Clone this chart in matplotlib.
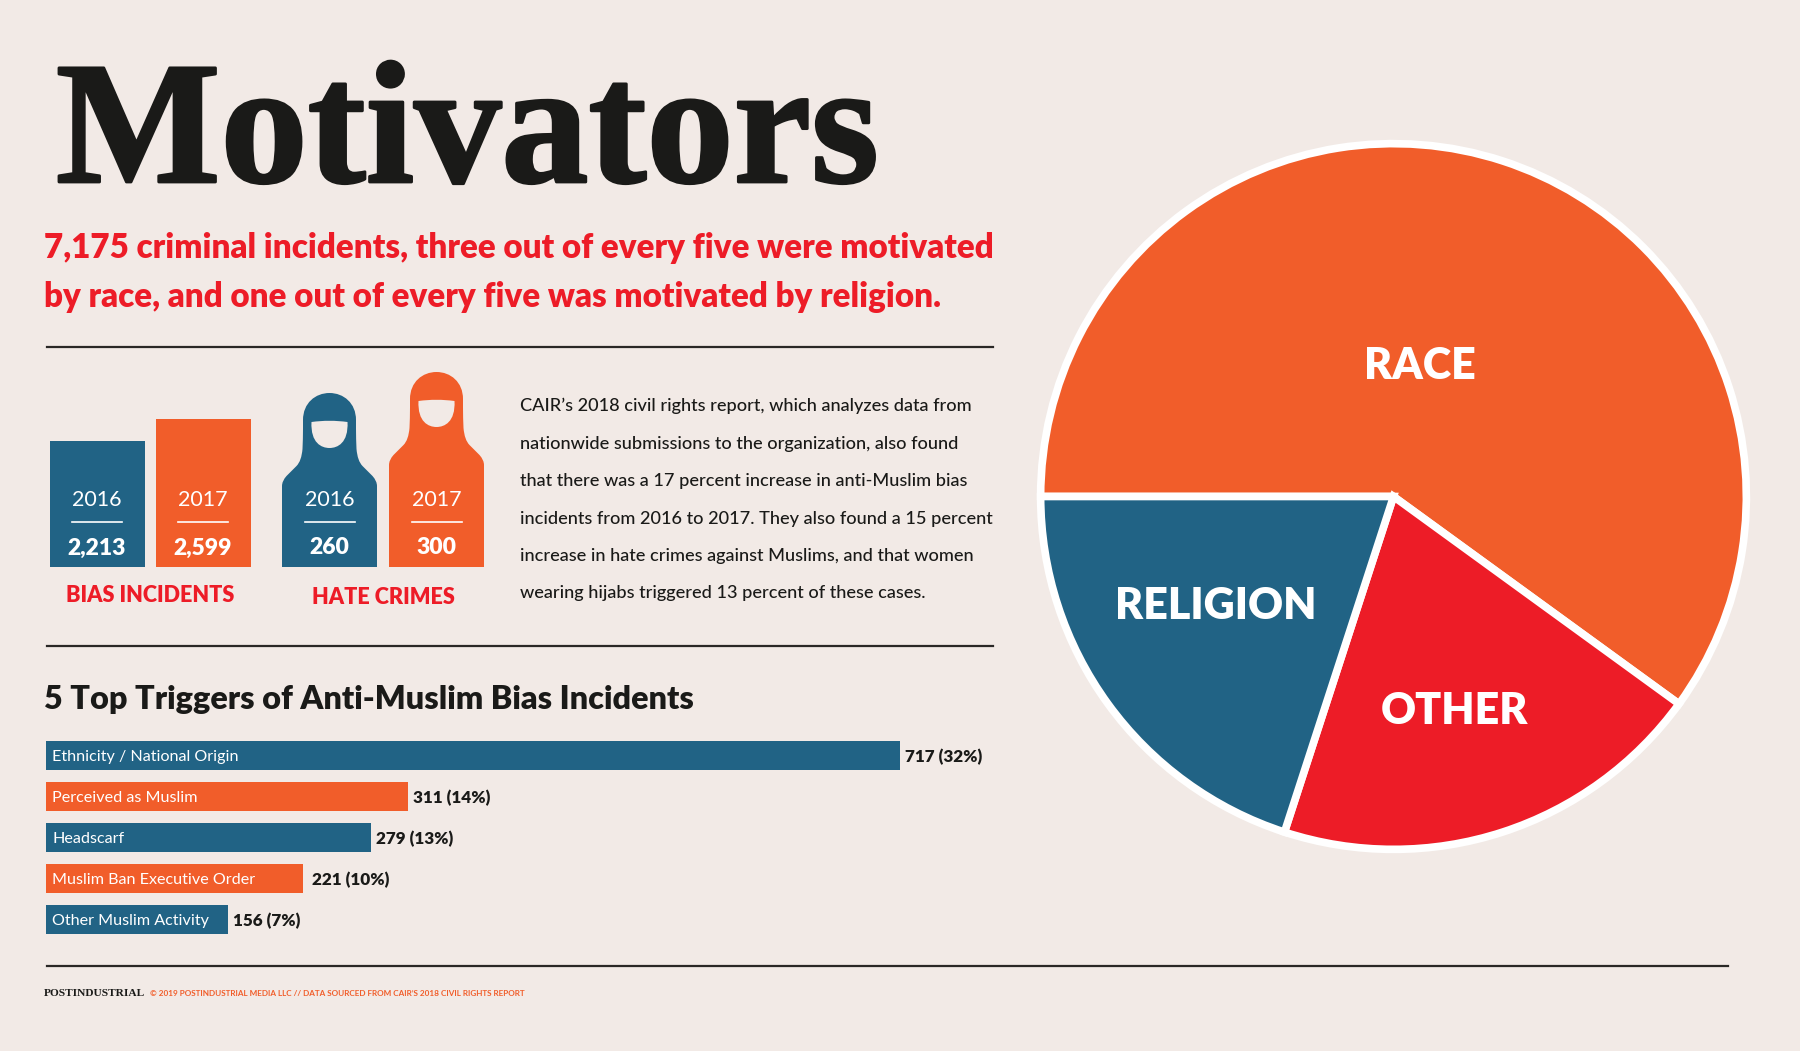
import matplotlib
matplotlib.use('Agg')
import matplotlib.pyplot as plt
import matplotlib.patheffects as effects
from matplotlib.path import Path
from matplotlib.patches import PathPatch

WIDTH = 1800
HEIGHT = 1051

BACKGROUND = '#F2EAE6'
ORANGE = '#F15D2A'
BLUE = '#216385'
RED = '#ED1C27'
INK = '#1A1A18'

years = ['2016', '2017']
bias_incidents = [2213, 2599]
hate_crimes = [260, 300]
year_colors = [BLUE, ORANGE]

pie_labels = ['RACE', 'OTHER', 'RELIGION']
pie_shares = [60, 20, 20]
pie_colors = [ORANGE, RED, BLUE]

trigger_names = ['Ethnicity / National Origin', 'Perceived as Muslim', 'Headscarf',
                 'Muslim Ban Executive Order', 'Other Muslim Activity']
trigger_bars = [733, 311, 279, 221, 156]  # top bar is drawn longer than its 717 in the picture
trigger_labels = ['717 (32%)', '311 (14%)', '279 (13%)', '221 (10%)', '156 (7%)']
trigger_colors = [BLUE, ORANGE, BLUE, ORANGE, BLUE]

headline = ['7,175 criminal incidents, three out of every five were motivated',
            'by race, and one out of every five was motivated by religion.']
body = ['CAIR\u2019s 2018 civil rights report, which analyzes data from',
        'nationwide submissions to the organization, also found',
        'that there was a 17 percent increase in anti-Muslim bias',
        'incidents from 2016 to 2017. They also found a 15 percent',
        'increase in hate crimes against Muslims, and that women',
        'wearing hijabs triggered 13 percent of these cases.']


def panel(left, top, right, bottom):
    # Axes placed by picture pixels
    ax = plt.axes([left / WIDTH, 1 - bottom / HEIGHT, (right - left) / WIDTH, (bottom - top) / HEIGHT])
    ax.patch.set_alpha(0)
    plt.axis('off')
    return ax


def plot_bias_incidents():
    panel(50, 419, 251, 567)
    plt.bar([0, 1], bias_incidents, width=0.897, color=year_colors)
    plt.xlim(-0.448, 1.448)
    plt.ylim(0, 2599)


def hijab(center, value, floor, pixels_per_unit):
    # Head stays one size, only the body grows with the value
    def point(dx, dy):
        return (center + dx, value - dy / pixels_per_unit)

    vertices = [(center - 47.5, floor), point(-47.5, 93), point(-47.5, 88), point(-43, 83),
                point(-33, 73), point(-28, 68), point(-27, 56), point(-26.5, 46), point(-26.5, 36),
                point(-26.5, 27), point(-26.5, 10), point(-14, 0), point(0, 0),
                point(14, 0), point(26.5, 10), point(26.5, 27), point(26.5, 36),
                point(26.5, 46), point(27, 56), point(28, 68), point(33, 73),
                point(43, 83), point(47.5, 88), point(47.5, 93), (center + 47.5, floor)]
    codes = [Path.MOVETO, Path.LINETO] + [Path.CURVE3, Path.CURVE3] + [Path.LINETO] + \
            [Path.CURVE3, Path.CURVE3] + [Path.CURVE3, Path.CURVE3] + [Path.LINETO] + \
            [Path.CURVE4] * 3 + [Path.CURVE4] * 3 + [Path.LINETO] + \
            [Path.CURVE3, Path.CURVE3] + [Path.CURVE3, Path.CURVE3] + [Path.LINETO] + \
            [Path.CURVE3, Path.CURVE3] + [Path.LINETO]
    return Path(vertices, codes)


def face(center, value, pixels_per_unit):
    def point(dx, dy):
        return (center + dx, value - dy / pixels_per_unit)

    vertices = [point(-18, 29), point(0, 26.5), point(18, 29), point(19, 50), point(8, 55), point(0, 55),
                point(-8, 55), point(-19, 50), point(-18, 29)]
    codes = [Path.MOVETO, Path.CURVE3, Path.CURVE3, Path.CURVE4, Path.CURVE4, Path.CURVE4,
             Path.CURVE4, Path.CURVE4, Path.CURVE4]
    return Path(vertices, codes)


def plot_hate_crimes():
    ax = panel(282, 372, 484, 567)
    floor = -71.4
    pixels_per_unit = 195 / (300 - floor)
    for center, value, color in zip([47.5, 154.5], hate_crimes, year_colors):
        ax.add_patch(PathPatch(hijab(center, value, floor, pixels_per_unit), facecolor=color, edgecolor='none'))
        ax.add_patch(PathPatch(face(center, value, pixels_per_unit), facecolor=BACKGROUND, edgecolor='none'))
    plt.xlim(0, 202)
    plt.ylim(floor, 300)


def plot_triggers():
    panel(46, 735, 1000, 940)
    pixels_per_unit = 1.165
    plt.barh(range(5), trigger_bars, height=0.72, color=trigger_colors)
    for i in range(5):
        plt.text(6.5 / pixels_per_unit, i + 0.03, trigger_names[i], color='white', fontsize=11.6, va='center')
        gap = 9 if i == 3 else 5  # this one sits further out
        plt.text(trigger_bars[i] + gap / pixels_per_unit, i + 0.03, trigger_labels[i], color=INK,
                 fontsize=12.3, fontweight='heavy', va='center')
    plt.xlim(0, 954 / pixels_per_unit)
    plt.ylim(4.5, -0.5)


def plot_pie():
    panel(1023, 126, 1764, 867)
    plt.pie(pie_shares, colors=pie_colors, startangle=180, counterclock=False,
            wedgeprops={'edgecolor': 'white', 'linewidth': 5.5})
    plt.xlim(-1.05, 1.05)
    plt.ylim(-1.05, 1.05)


def plot_words():
    # Everything on top, in picture pixels
    panel(0, 0, WIDTH, HEIGHT).set_zorder(5)
    plt.xlim(0, WIDTH)
    plt.ylim(HEIGHT, 0)

    title = plt.text(56, 182, 'Motivators', family='Liberation Serif', fontweight='bold', fontsize=125.5, color=INK,
                     va='baseline')
    title.set_path_effects([effects.withStroke(linewidth=2, foreground=INK)])

    for y, line in zip([248, 297], headline):
        plt.text(44, y, line, color=RED, fontsize=23.9, fontweight='heavy', va='center')
    for y, line in zip([406, 444, 481, 519, 556, 593], body):
        plt.text(520, y, line, color=INK, fontsize=13.1, fontweight='medium', va='center')
    plt.text(44, 699, '5 Top Triggers of Anti-Muslim Bias Incidents', color=INK, fontsize=23.3, fontweight='heavy', va='center')

    for x1, x2, y in [(47, 993, 346.7), (47, 993, 645.6), (47, 1728, 966)]:
        plt.plot([x1, x2], [y, y], color='#2A2826', linewidth=1.6)

    # Words on the small bars and figures
    for x, year, value in zip([97, 203, 329.5, 436.5], years * 2, bias_incidents + hate_crimes):
        plt.text(x, 500, year, color='white', fontsize=15.5, ha='center', va='center')
        plt.plot([x - 25, x + 25], [521.5, 521.5], color='white', linewidth=1.2)
        plt.text(x, 548, f'{value:,}', color='white', fontsize=16.5, fontweight='heavy', ha='center', va='center')
    plt.text(150, 595, 'BIAS INCIDENTS', color=RED, fontsize=15.6, fontweight='heavy', ha='center', va='center')
    plt.text(383, 597, 'HATE CRIMES', color=RED, fontsize=15.6, fontweight='heavy', ha='center', va='center')

    for x, y, label in [(1419.5, 366, 'RACE'), (1216, 606, 'RELIGION'), (1454, 711, 'OTHER')]:
        plt.text(x, y, label, color='white', fontsize=31, fontweight='heavy', ha='center', va='center')

    plt.text(44, 994, 'POSTINDUSTRIAL', family='Liberation Serif', fontweight='bold', color=INK, fontsize=8.2, va='center')
    plt.text(150, 994, '\u00a9 2019 POSTINDUSTRIAL MEDIA LLC // DATA SOURCED FROM CAIR\u2019S 2018 CIVIL RIGHTS REPORT',
             color=ORANGE, fontsize=5.9, fontweight='bold', va='center')


if __name__ == '__main__':
    plt.rcParams['font.family'] = ['Lato', 'DejaVu Sans']
    plt.figure(figsize=(WIDTH / 100, HEIGHT / 100), dpi=100, facecolor=BACKGROUND)

    plot_pie()
    plot_bias_incidents()
    plot_hate_crimes()
    plot_triggers()
    plot_words()

    plt.savefig('out.png', dpi=100, facecolor=BACKGROUND)
